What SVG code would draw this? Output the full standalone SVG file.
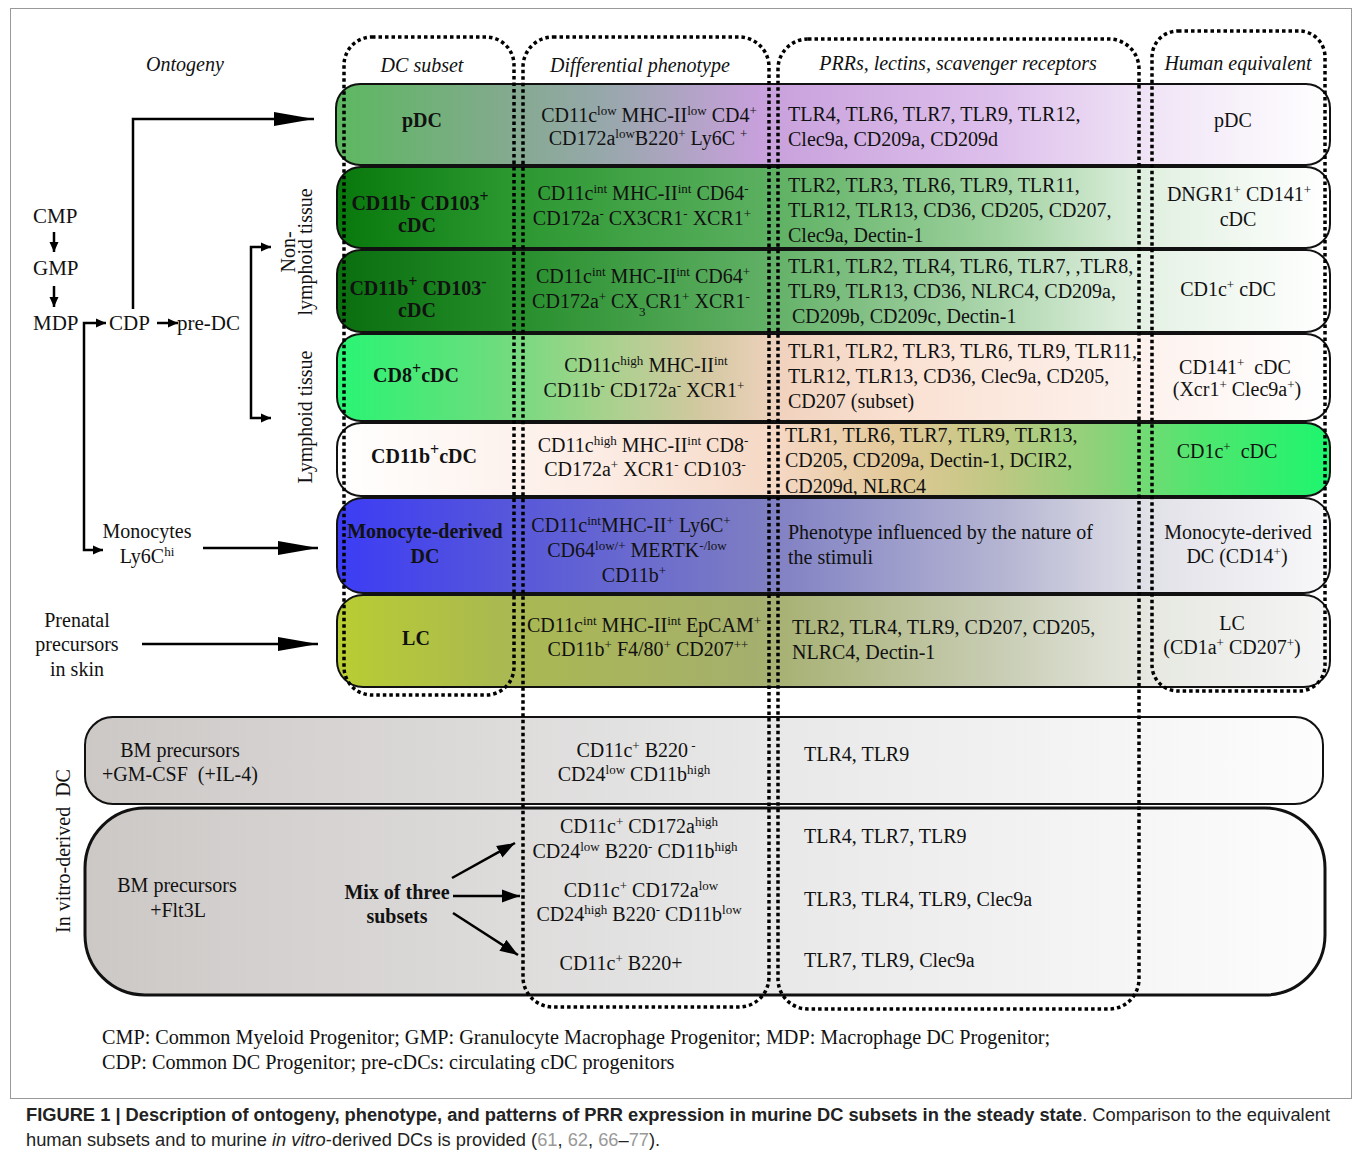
<svg xmlns="http://www.w3.org/2000/svg" width="1354" height="1162" viewBox="0 0 1354 1162">
<style>
.t{font-family:"Liberation Serif","Times New Roman",serif;font-size:20px;fill:#111}
.o{font-size:21px}
.m{text-anchor:middle}
.b{font-weight:bold}
.i{font-style:italic}
.s{font-size:13px;baseline-shift:super}
.sb{font-size:13px;baseline-shift:sub}
.bs{font-size:16px;baseline-shift:super}
.row{stroke:#111;stroke-width:2}
.dot{fill:none;stroke:#000;stroke-width:3.5;stroke-dasharray:3.5 3}
.ln{fill:none;stroke:#000;stroke-width:2.5}
.cap{font-family:"Liberation Sans",Arial,sans-serif;font-size:18.3px;fill:#222}
.note{font-size:20.2px}
</style>
<defs>
<marker id="big" markerUnits="userSpaceOnUse" markerWidth="40" markerHeight="16" refX="40" refY="8" orient="auto"><path d="M0,1 L40,8 L0,15 z" fill="#000"/></marker>
<marker id="med" markerUnits="userSpaceOnUse" markerWidth="18" markerHeight="14" refX="18" refY="7" orient="auto"><path d="M0,0.5 L18,7 L0,13.5 z" fill="#000"/></marker>
<marker id="sm" markerUnits="userSpaceOnUse" markerWidth="10" markerHeight="10" refX="10" refY="5" orient="auto"><path d="M0,0.5 L10,5 L0,9.5 z" fill="#000"/></marker>
<linearGradient id="g1" gradientUnits="userSpaceOnUse" x1="337" y1="0" x2="1330" y2="0">
<stop offset="0" stop-color="rgb(92,184,96)"/><stop offset="0.164" stop-color="rgb(130,170,140)"/><stop offset="0.265" stop-color="rgb(150,168,170)"/><stop offset="0.426" stop-color="rgb(200,160,220)"/><stop offset="0.668" stop-color="rgb(222,192,236)"/><stop offset="0.819" stop-color="rgb(240,228,246)"/><stop offset="1" stop-color="#fff"/></linearGradient>
<linearGradient id="g2" gradientUnits="userSpaceOnUse" x1="337" y1="0" x2="1330" y2="0">
<stop offset="0" stop-color="rgb(8,120,12)"/><stop offset="0.164" stop-color="rgb(40,150,45)"/><stop offset="0.426" stop-color="rgb(90,175,95)"/><stop offset="0.668" stop-color="rgb(160,210,160)"/><stop offset="0.819" stop-color="rgb(225,240,225)"/><stop offset="1" stop-color="#fff"/></linearGradient>
<linearGradient id="g3" gradientUnits="userSpaceOnUse" x1="337" y1="0" x2="1330" y2="0">
<stop offset="0" stop-color="rgb(10,110,15)"/><stop offset="0.164" stop-color="rgb(35,140,40)"/><stop offset="0.426" stop-color="rgb(95,175,100)"/><stop offset="0.668" stop-color="rgb(175,215,175)"/><stop offset="0.819" stop-color="rgb(230,242,230)"/><stop offset="1" stop-color="#fff"/></linearGradient>
<linearGradient id="g4" gradientUnits="userSpaceOnUse" x1="337" y1="0" x2="1330" y2="0">
<stop offset="0" stop-color="rgb(40,245,115)"/><stop offset="0.164" stop-color="rgb(110,220,125)"/><stop offset="0.265" stop-color="rgb(165,210,140)"/><stop offset="0.366" stop-color="rgb(210,200,160)"/><stop offset="0.446" stop-color="rgb(240,210,190)"/><stop offset="0.567" stop-color="rgb(250,225,210)"/><stop offset="0.819" stop-color="rgb(253,242,238)"/><stop offset="1" stop-color="#fff"/></linearGradient>
<linearGradient id="g5" gradientUnits="userSpaceOnUse" x1="337" y1="0" x2="1330" y2="0">
<stop offset="0" stop-color="#fff"/><stop offset="0.265" stop-color="rgb(252,236,228)"/><stop offset="0.446" stop-color="rgb(245,215,195)"/><stop offset="0.567" stop-color="rgb(225,200,150)"/><stop offset="0.668" stop-color="rgb(190,200,130)"/><stop offset="0.769" stop-color="rgb(140,210,120)"/><stop offset="0.869" stop-color="rgb(80,230,110)"/><stop offset="1" stop-color="rgb(30,245,110)"/></linearGradient>
<linearGradient id="g6" gradientUnits="userSpaceOnUse" x1="337" y1="0" x2="1330" y2="0">
<stop offset="0" stop-color="rgb(60,60,245)"/><stop offset="0.164" stop-color="rgb(85,85,220)"/><stop offset="0.426" stop-color="rgb(125,125,195)"/><stop offset="0.668" stop-color="rgb(180,180,210)"/><stop offset="0.819" stop-color="rgb(225,225,232)"/><stop offset="1" stop-color="rgb(248,248,250)"/></linearGradient>
<linearGradient id="g7" gradientUnits="userSpaceOnUse" x1="337" y1="0" x2="1330" y2="0">
<stop offset="0" stop-color="rgb(185,205,50)"/><stop offset="0.164" stop-color="rgb(170,185,80)"/><stop offset="0.426" stop-color="rgb(165,175,110)"/><stop offset="0.668" stop-color="rgb(200,205,180)"/><stop offset="0.819" stop-color="rgb(230,232,225)"/><stop offset="1" stop-color="rgb(245,245,245)"/></linearGradient>
<linearGradient id="gv" gradientUnits="userSpaceOnUse" x1="85" y1="0" x2="1325" y2="0">
<stop offset="0" stop-color="rgb(204,200,198)"/><stop offset="0.55" stop-color="rgb(232,232,232)"/><stop offset="1" stop-color="rgb(253,253,253)"/></linearGradient>
</defs>

<rect x="10.5" y="8.5" width="1341" height="1090" fill="none" stroke="#999" stroke-width="1"/>

<g id="headers">
<text class="t i m" x="185" y="71">Ontogeny</text>
<text class="t i m" x="422" y="72">DC subset</text>
<text class="t i m" x="640" y="72">Differential phenotype</text>
<text class="t i m" x="958" y="70">PRRs, lectins, scavenger receptors</text>
<text class="t i m" x="1238" y="70">Human equivalent</text>
</g>

<g id="row-pDC">
<rect class="row" x="336" y="84" width="994" height="81" rx="24" fill="url(#g1)"/>
<text class="t b m" x="422" y="127">pDC</text>
<text class="t m" x="649" y="122">CD11c<tspan class="s">low</tspan> MHC-II<tspan class="s">low</tspan> CD4<tspan class="s">+</tspan></text>
<text class="t m" x="648" y="145">CD172a<tspan class="s">low</tspan>B220<tspan class="s">+</tspan> Ly6C <tspan class="s">+</tspan></text>
<text class="t" x="788" y="121">TLR4, TLR6, TLR7, TLR9, TLR12,</text>
<text class="t" x="788" y="146">Clec9a, CD209a, CD209d</text>
<text class="t m" x="1233" y="127">pDC</text>
</g>

<g id="row-CD103">
<rect class="row" x="337" y="167" width="993" height="81" rx="24" fill="url(#g2)"/>
<text class="t b m" x="420" y="210">CD11b<tspan class="bs">-</tspan> CD103<tspan class="bs">+</tspan></text>
<text class="t b m" x="417" y="232">cDC</text>
<text class="t m" x="643" y="200">CD11c<tspan class="s">int</tspan> MHC-II<tspan class="s">int</tspan> CD64<tspan class="s">-</tspan></text>
<text class="t m" x="642" y="225">CD172a<tspan class="s">-</tspan> CX3CR1<tspan class="s">-</tspan> XCR1<tspan class="s">+</tspan></text>
<text class="t" x="788" y="192">TLR2, TLR3, TLR6, TLR9, TLR11,</text>
<text class="t" x="788" y="217">TLR12, TLR13, CD36, CD205, CD207,</text>
<text class="t" x="788" y="242">Clec9a, Dectin-1</text>
<text class="t m" x="1239" y="201">DNGR1<tspan class="s">+</tspan> CD141<tspan class="s">+</tspan></text>
<text class="t m" x="1238" y="226">cDC</text>
</g>

<g id="row-CD11b-nonlymphoid">
<rect class="row" x="337" y="250" width="993" height="82" rx="24" fill="url(#g3)"/>
<text class="t b m" x="418" y="295">CD11b<tspan class="bs">+</tspan> CD103<tspan class="bs">-</tspan></text>
<text class="t b m" x="417" y="317">cDC</text>
<text class="t m" x="643" y="283">CD11c<tspan class="s">int</tspan> MHC-II<tspan class="s">int</tspan> CD64<tspan class="s">+</tspan></text>
<text class="t m" x="641" y="308">CD172a<tspan class="s">+</tspan> CX<tspan class="sb">3</tspan>CR1<tspan class="s">+</tspan> XCR1<tspan class="s">-</tspan></text>
<text class="t" x="788" y="273">TLR1, TLR2, TLR4, TLR6, TLR7, ,TLR8,</text>
<text class="t" x="788" y="298">TLR9, TLR13, CD36, NLRC4, CD209a,</text>
<text class="t" x="792" y="323">CD209b, CD209c, Dectin-1</text>
<text class="t m" x="1228" y="296">CD1c<tspan class="s">+</tspan> cDC</text>
</g>

<g id="row-CD8">
<rect class="row" x="337" y="334" width="993" height="87" rx="24" fill="url(#g4)"/>
<text class="t b m" x="416" y="382">CD8<tspan class="bs">+</tspan>cDC</text>
<text class="t m" x="646" y="372">CD11c<tspan class="s">high</tspan> MHC-II<tspan class="s">int</tspan></text>
<text class="t m" x="644" y="397">CD11b<tspan class="s">-</tspan> CD172a<tspan class="s">-</tspan> XCR1<tspan class="s">+</tspan></text>
<text class="t" x="788" y="358">TLR1, TLR2, TLR3, TLR6, TLR9, TLR11,</text>
<text class="t" x="788" y="383">TLR12, TLR13, CD36, Clec9a, CD205,</text>
<text class="t" x="788" y="408">CD207 (subset)</text>
<text class="t m" x="1235" y="374" xml:space="preserve">CD141<tspan class="s">+</tspan>  cDC</text>
<text class="t m" x="1237" y="396">(Xcr1<tspan class="s">+</tspan> Clec9a<tspan class="s">+</tspan>)</text>
</g>

<g id="row-CD11b-lymphoid">
<rect class="row" x="337" y="423" width="993" height="73" rx="24" fill="url(#g5)"/>
<text class="t b m" x="424" y="463">CD11b<tspan class="bs">+</tspan>cDC</text>
<text class="t m" x="643" y="452">CD11c<tspan class="s">high</tspan> MHC-II<tspan class="s">int</tspan> CD8<tspan class="s">-</tspan></text>
<text class="t m" x="645" y="476">CD172a<tspan class="s">+</tspan> XCR1<tspan class="s">-</tspan> CD103<tspan class="s">-</tspan></text>
<text class="t" x="785" y="442">TLR1, TLR6, TLR7, TLR9, TLR13,</text>
<text class="t" x="785" y="467">CD205, CD209a, Dectin-1, DCIR2,</text>
<text class="t" x="785" y="493">CD209d, NLRC4</text>
<text class="t m" x="1227" y="458" xml:space="preserve">CD1c<tspan class="s">+</tspan>  cDC</text>
</g>

<g id="row-moDC">
<rect class="row" x="337" y="498" width="993" height="95" rx="26" fill="url(#g6)"/>
<text class="t b m" x="425" y="538">Monocyte-derived</text>
<text class="t b m" x="425" y="563">DC</text>
<text class="t m" x="631" y="532">CD11c<tspan class="s">int</tspan>MHC-II<tspan class="s">+</tspan> Ly6C<tspan class="s">+</tspan></text>
<text class="t m" x="637" y="557">CD64<tspan class="s">low/+</tspan> MERTK<tspan class="s">-/low</tspan></text>
<text class="t m" x="634" y="582">CD11b<tspan class="s">+</tspan></text>
<text class="t" x="788" y="539">Phenotype influenced by the nature of</text>
<text class="t" x="788" y="564">the stimuli</text>
<text class="t m" x="1238" y="539">Monocyte-derived</text>
<text class="t m" x="1237" y="563">DC (CD14<tspan class="s">+</tspan>)</text>
</g>

<g id="row-LC">
<rect class="row" x="337" y="595" width="993" height="92" rx="26" fill="url(#g7)"/>
<text class="t b m" x="416" y="645">LC</text>
<text class="t m" x="644" y="632">CD11c<tspan class="s">int</tspan> MHC-II<tspan class="s">int</tspan> EpCAM<tspan class="s">+</tspan></text>
<text class="t m" x="648" y="656">CD11b<tspan class="s">+</tspan> F4/80<tspan class="s">+</tspan> CD207<tspan class="s">++</tspan></text>
<text class="t" x="792" y="634">TLR2, TLR4, TLR9, CD207, CD205,</text>
<text class="t" x="792" y="659">NLRC4, Dectin-1</text>
<text class="t m" x="1232" y="630">LC</text>
<text class="t m" x="1232" y="654">(CD1a<tspan class="s">+</tspan> CD207<tspan class="s">+</tspan>)</text>
</g>

<g id="invitro-GMCSF">
<rect x="85" y="717" width="1238" height="87" rx="28" fill="url(#gv)" stroke="#111" stroke-width="2"/>
<text class="t m" x="180" y="757">BM precursors</text>
<text class="t m" x="180" y="781" xml:space="preserve">+GM-CSF  (+IL-4)</text>
<text class="t m" x="636" y="757">CD11c<tspan class="s">+</tspan> B220<tspan class="s"> -</tspan></text>
<text class="t m" x="634" y="781">CD24<tspan class="s">low</tspan> CD11b<tspan class="s">high</tspan></text>
<text class="t" x="804" y="761">TLR4, TLR9</text>
</g>

<g id="invitro-Flt3L">
<rect x="85" y="808" width="1240" height="187" rx="60" fill="url(#gv)" stroke="#111" stroke-width="3"/>
<text class="t m" x="177" y="892">BM precursors</text>
<text class="t m" x="178" y="917">+Flt3L</text>
<text class="t b m" x="397" y="899">Mix of three</text>
<text class="t b m" x="397" y="923">subsets</text>
<text class="t m" x="639" y="833">CD11c<tspan class="s">+</tspan> CD172a<tspan class="s">high</tspan></text>
<text class="t m" x="635" y="858">CD24<tspan class="s">low</tspan> B220<tspan class="s">-</tspan> CD11b<tspan class="s">high</tspan></text>
<text class="t m" x="641" y="897">CD11c<tspan class="s">+</tspan> CD172a<tspan class="s">low</tspan></text>
<text class="t m" x="639" y="921">CD24<tspan class="s">high</tspan> B220<tspan class="s">-</tspan> CD11b<tspan class="s">low</tspan></text>
<text class="t m" x="621" y="970">CD11c<tspan class="s">+</tspan> B220+</text>
<text class="t" x="804" y="843">TLR4, TLR7, TLR9</text>
<text class="t" x="804" y="906">TLR3, TLR4, TLR9, Clec9a</text>
<text class="t" x="804" y="967">TLR7, TLR9, Clec9a</text>
</g>

<g id="column-outlines">
<rect class="dot" x="344" y="37" width="170" height="658" rx="28"/>
<rect class="dot" x="523" y="37" width="246" height="970" rx="30"/>
<rect class="dot" x="778" y="39" width="361" height="970" rx="30"/>
<rect class="dot" x="1152" y="31" width="173" height="660" rx="26"/>
</g>

<g id="ontogeny-labels">
<text class="t o" x="33" y="223">CMP</text>
<text class="t o" x="33" y="275">GMP</text>
<text class="t o" x="33" y="330">MDP</text>
<text class="t o" x="109" y="330">CDP</text>
<text class="t o" x="177" y="330">pre-DC</text>
<text class="t m" transform="translate(295,252) rotate(-90)">Non-</text>
<text class="t m" transform="translate(312,252) rotate(-90)">lymphoid tissue</text>
<text class="t m" transform="translate(312,417) rotate(-90)">Lymphoid tissue</text>
<text class="t m" x="147" y="538">Monocytes</text>
<text class="t m" x="147" y="563">Ly6C<tspan class="s">hi</tspan></text>
<text class="t m" x="77" y="627">Prenatal</text>
<text class="t m" x="77" y="651">precursors</text>
<text class="t m" x="77" y="676">in skin</text>
<text class="t m" transform="translate(70,851) rotate(-90)" xml:space="preserve">In vitro-derived  DC</text>
</g>

<g id="connectors">
<line class="ln" x1="54" y1="232" x2="54" y2="252" marker-end="url(#sm)"/>
<line class="ln" x1="54" y1="286" x2="54" y2="307" marker-end="url(#sm)"/>
<path class="ln" d="M84,420 V323 H106" marker-end="url(#sm)"/>
<path class="ln" d="M84,420 V550 H103" marker-end="url(#sm)"/>
<line class="ln" x1="157" y1="323" x2="178" y2="323" marker-end="url(#sm)"/>
<path class="ln" d="M133,309 V119 H314" marker-end="url(#big)"/>
<path class="ln" d="M251,333 V247 H271" marker-end="url(#sm)"/>
<path class="ln" d="M251,333 V418 H271" marker-end="url(#sm)"/>
<line class="ln" x1="203" y1="548" x2="318" y2="548" marker-end="url(#big)"/>
<line class="ln" x1="142" y1="644" x2="318" y2="644" marker-end="url(#big)"/>
<line class="ln" x1="452" y1="878" x2="515" y2="843" marker-end="url(#med)"/>
<line class="ln" x1="453" y1="896" x2="520" y2="896" marker-end="url(#med)"/>
<line class="ln" x1="453" y1="913" x2="518" y2="955" marker-end="url(#med)"/>
</g>

<g id="caption">
<text class="t note" x="102" y="1044">CMP: Common Myeloid Progenitor; GMP: Granulocyte Macrophage Progenitor; MDP: Macrophage DC Progenitor;</text>
<text class="t note" x="102" y="1069">CDP: Common DC Progenitor; pre-cDCs: circulating cDC progenitors</text>
<text class="cap" x="26" y="1121"><tspan font-weight="bold">FIGURE 1 | Description of ontogeny, phenotype, and patterns of PRR expression in murine DC subsets in the steady state</tspan>. Comparison to the equivalent</text>
<text class="cap" x="26" y="1146">human subsets and to murine <tspan font-style="italic">in vitro</tspan>-derived DCs is provided (<tspan fill="#999">61</tspan>, <tspan fill="#999">62</tspan>, <tspan fill="#999">66</tspan>–<tspan fill="#999">77</tspan>).</text>
</g>
</svg>
